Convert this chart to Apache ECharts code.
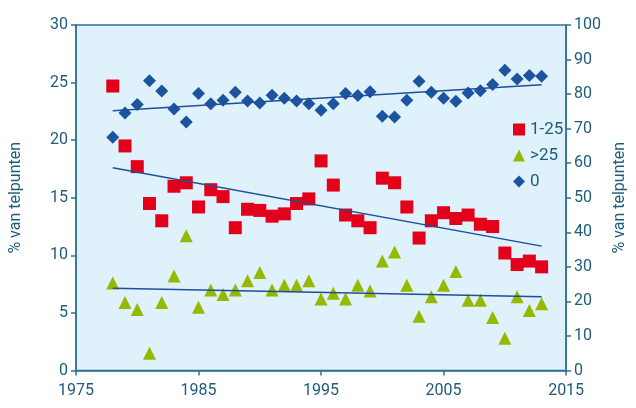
<!DOCTYPE html>
<html>
<head>
<meta charset="utf-8">
<script src="https://cdn.jsdelivr.net/npm/echarts@6/dist/echarts.min.js"></script>
<style>html,body{margin:0;padding:0;background:#fff}#c{width:636px;height:408px}</style>
</head>
<body>
<div id="c"></div>
<script>
const years = [1978,1979,1980,1981,1982,1983,1984,1985,1986,1987,1988,1989,1990,1991,1992,1993,1994,1995,1996,1997,1998,1999,2000,2001,2002,2003,2004,2005,2006,2007,2008,2009,2010,2011,2012,2013];
const s1to25 = [24.7,19.5,17.7,14.5,13.0,16.0,16.3,14.2,15.7,15.1,12.4,14.0,13.9,13.4,13.6,14.5,14.9,18.2,16.1,13.5,13.0,12.4,16.7,16.3,14.2,11.5,13.0,13.7,13.2,13.5,12.7,12.5,10.2,9.2,9.5,9.0];
const sOver25 = [7.6,5.9,5.3,1.5,5.9,8.2,11.7,5.5,7.0,6.6,7.0,7.8,8.5,7.0,7.4,7.4,7.8,6.2,6.7,6.2,7.4,6.9,9.5,10.3,7.4,4.7,6.4,7.4,8.6,6.1,6.1,4.6,2.8,6.4,5.2,5.8];
const sZero = [67.5,74.5,77.0,83.9,80.9,75.7,71.9,80.2,77.2,78.2,80.5,78.0,77.4,79.7,78.8,78.0,77.2,75.3,77.2,80.2,79.6,80.7,73.6,73.4,78.2,83.7,80.5,78.8,77.9,80.3,81.0,82.8,86.9,84.4,85.4,85.2];
const trendYears = [1978, 2013];
const trend1to25 = [17.6, 10.8];
const trendOver25 = [7.15, 6.4];
const trendZero = [75.2, 82.7];
const xTicks = [1975,1985,1995,2005,2015];
const seriesNames = ['1-25','>25','0'];

const txt = '#1d5c7a', axc = '#2f7290', font = '"Liberation Sans Narrow","Arial Narrow","Roboto",sans-serif';
const pair = (xs, ys) => xs.map((x, i) => [x, ys[i]]);
const chart = echarts.init(document.getElementById('c'), null, {renderer:'canvas'});
const axisCommon = {
  axisLine:{show:true, lineStyle:{color:axc, width:1.5}},
  axisTick:{show:true, length:5, lineStyle:{color:axc, width:1.5}},
  axisLabel:{color:txt, fontSize:16, fontFamily:font},
  splitLine:{show:false},
  nameTextStyle:{color:txt, fontSize:16, fontFamily:font}
};
chart.setOption({
  animation:false,
  grid:{left:75, right:56, top:25, bottom:37.5, show:true, backgroundColor:'#dff1fb', borderColor:axc, borderWidth:1.5},
  legend:{
    orient:'vertical', left:513, top:120, itemWidth:12, itemHeight:12, itemGap:7, padding:[0,0,0,0],
    textStyle:{color:txt, fontSize:17, fontFamily:font, lineHeight:19},
    data:[{name:seriesNames[0], icon:'rect'},{name:seriesNames[1], icon:'triangle'},{name:seriesNames[2], icon:'diamond'}]
  },
  xAxis:Object.assign({}, axisCommon, {
    type:'value', min:1975, max:2015,
    axisTick:{show:true, length:5, lineStyle:{color:axc, width:1.5}, customValues:xTicks},
    axisLabel:{color:txt, fontSize:16, fontFamily:font, margin:12, customValues:xTicks, formatter:v => String(v)}
  }),
  yAxis:[
    Object.assign({}, axisCommon, {type:'value', min:0, max:30, interval:5, position:'left',
      name:'% van telpunten', nameLocation:'middle', nameGap:52}),
    Object.assign({}, axisCommon, {type:'value', min:0, max:100, interval:10, position:'right',
      name:'% van telpunten', nameLocation:'middle', nameGap:43})
  ],
  series:[
    {name:seriesNames[0], type:'scatter', symbol:'rect', symbolSize:13, itemStyle:{color:'#e2001a', opacity:1}, data:pair(years, s1to25), z:2},
    {name:seriesNames[1], type:'scatter', symbol:'triangle', symbolSize:13, itemStyle:{color:'#95b800', opacity:1}, data:pair(years, sOver25), z:2},
    {name:seriesNames[2], type:'scatter', symbol:'diamond', symbolSize:13, yAxisIndex:1, itemStyle:{color:'#1d54a0', opacity:1}, data:pair(years, sZero), z:2},
    {name:'t1', type:'line', symbol:'none', lineStyle:{color:'#1f4e9a', width:1.5}, data:pair(trendYears, trend1to25), z:3, silent:true},
    {name:'t2', type:'line', symbol:'none', lineStyle:{color:'#1f4e9a', width:1.5}, data:pair(trendYears, trendOver25), z:3, silent:true},
    {name:'t3', type:'line', symbol:'none', yAxisIndex:1, lineStyle:{color:'#1f4e9a', width:1.5}, data:pair(trendYears, trendZero), z:3, silent:true}
  ]
});
</script>
</body>
</html>
